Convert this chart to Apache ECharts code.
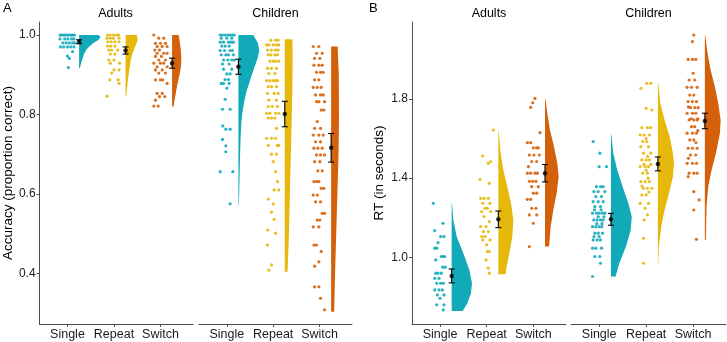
<!DOCTYPE html>
<html>
<head>
<meta charset="utf-8">
<script src="https://cdn.jsdelivr.net/npm/echarts@6/dist/echarts.min.js"></script>
<style>
  html, body { margin: 0; padding: 0; background: #fff; }
  #chart { width: 727px; height: 342px; }
</style>
</head>
<body>
<div id="chart"></div>
<script>
// categories / ticks
var groups = ["Single", "Repeat", "Switch"];
var accTicks = [0.4, 0.6, 0.8, 1.0];
var rtTicks = [1.0, 1.4, 1.8];
var colors = ["#12aab9", "#e5b80b", "#d5600a"];

// ---- A: accuracy, points as [jitter, value] ----
var accAdultSingle = [[-0.16,1],[-0.12,1],[-0.08,1],[-0.04,1],[0,1],[0.04,1],[0.08,1],[0.12,1],[0.15,1],
  [-0.16,0.99],[-0.06,0.99],[0.01,0.99],[0.09,0.99],[0.14,0.99],
  [-0.1,0.98],[-0.03,0.98],[0.04,0.98],[0.11,0.98],[0.16,0.98],
  [-0.15,0.97],[-0.08,0.97],[0,0.97],[0.07,0.97],[0.14,0.97],
  [0.11,0.958],[0,0.947],[0.04,0.941],[0.02,0.918]];
var accAdultRepeat = [[-0.14,1],[-0.08,1],[-0.01,1],[0.06,1],[0.1,1],
  [-0.15,0.992],[-0.08,0.992],[-0.01,0.992],[0.11,0.992],
  [-0.13,0.983],[-0.06,0.983],[0.02,0.983],[0.11,0.983],
  [-0.14,0.972],[-0.07,0.972],[0.02,0.972],
  [-0.11,0.962],[-0.05,0.962],[0.08,0.962],
  [-0.08,0.952],[0.02,0.952],[-0.11,0.937],[0,0.937],
  [-0.08,0.929],[0.12,0.929],[0,0.912],[0.11,0.912],[-0.05,0.904],
  [-0.09,0.887],[0.09,0.887],[0.11,0.878],[-0.15,0.846]];
var accAdultSwitch = [[-0.143,1],[-0.036,0.992],[0.071,0.992],
  [-0.107,0.979],[0,0.979],[0.107,0.979],[-0.071,0.971],[0.036,0.971],[0.143,0.971],
  [-0.121,0.962],[-0.021,0.962],[-0.071,0.954],[0.071,0.954],[0.143,0.954],
  [-0.107,0.946],[0.021,0.946],[-0.036,0.937],[0.107,0.937],
  [-0.143,0.929],[0,0.929],[0.071,0.929],[-0.071,0.92],[0.143,0.92],
  [-0.107,0.912],[0.036,0.912],[-0.036,0.904],[0.107,0.904],
  [-0.107,0.887],[0,0.887],[0.05,0.887],[0.143,0.878],
  [-0.071,0.853],[0.036,0.853],[-0.021,0.845],[0.093,0.845],[-0.107,0.836],
  [-0.143,0.821],[-0.05,0.821]];
var accChildSingle = [[-0.143,1],[-0.093,1],[-0.036,1],[0.021,1],[0.071,1],[0.121,1],[0.16,1],
  [-0.121,0.992],[0,0.992],[0.107,0.992],
  [-0.143,0.982],[-0.071,0.982],[0.036,0.982],[0.093,0.982],[0.143,0.982],
  [-0.107,0.972],[-0.036,0.972],[0.05,0.972],
  [-0.143,0.961],[-0.05,0.961],[0.071,0.961],[0.121,0.961],
  [-0.121,0.95],[-0.021,0.95],[0.036,0.95],[0.143,0.95],
  [-0.071,0.937],[0.021,0.937],[0.107,0.937],[0.164,0.937],
  [-0.093,0.927],[0.05,0.927],[-0.071,0.914],[0.107,0.914],
  [0,0.902],[0.071,0.902],[-0.036,0.888],[0.036,0.888],
  [-0.121,0.878],[-0.071,0.878],[0.05,0.878],[0,0.866],[-0.036,0.838],
  [-0.093,0.813],[0.071,0.813],[-0.086,0.771],[-0.021,0.763],[0.071,0.763],
  [-0.093,0.737],[-0.021,0.721],[-0.021,0.706],[-0.143,0.656],[0.129,0.656],[0.071,0.575]];
var accChildRepeat = [[-0.05,0.987],[0.05,0.987],[0.107,0.987],
  [-0.143,0.975],[-0.093,0.975],[0,0.975],[0.071,0.975],[0.121,0.975],
  [-0.121,0.962],[-0.036,0.962],[0.05,0.962],[0.107,0.962],
  [-0.107,0.95],[-0.05,0.95],[0.036,0.95],[0.093,0.95],
  [-0.071,0.934],[0,0.934],[0.05,0.934],[0.121,0.934],
  [-0.121,0.916],[-0.036,0.916],[0.071,0.916],[-0.093,0.903],[0.036,0.903],
  [-0.143,0.885],[-0.071,0.885],[0,0.885],[0.05,0.885],[0.093,0.885],
  [-0.107,0.87],[-0.036,0.87],[0.071,0.87],[-0.121,0.853],[0.021,0.853],[0.107,0.853],
  [-0.093,0.836],[0.071,0.836],[-0.107,0.82],[-0.021,0.82],[0.093,0.82],
  [-0.143,0.803],[-0.071,0.803],[0.05,0.803],[0.121,0.803],
  [-0.107,0.791],[-0.036,0.791],[0.036,0.791],[0.071,0.765],
  [-0.143,0.74],[-0.036,0.74],[0.05,0.74],[-0.107,0.722],[0.093,0.722],[0.121,0.722],
  [-0.036,0.7],[0.071,0.7],[0,0.681],[0.05,0.656],[0.093,0.631],[0.021,0.61],[0.121,0.61],
  [-0.107,0.587],[0,0.575],[-0.036,0.554],[0.021,0.536],[-0.121,0.509],[0.05,0.501],
  [-0.121,0.471],[-0.036,0.421],[-0.093,0.408]];
var accChildSwitch = [[-0.136,0.971],[-0.014,0.971],[-0.064,0.954],[0.057,0.954],
  [-0.107,0.941],[0.007,0.941],[-0.121,0.924],[-0.014,0.924],[0.057,0.924],
  [-0.064,0.906],[0.021,0.906],[0.079,0.906],[-0.107,0.887],[-0.014,0.887],
  [-0.136,0.868],[-0.05,0.868],[0.036,0.868],[-0.086,0.849],[0.021,0.849],[0.079,0.849],
  [-0.064,0.832],[-0.014,0.832],[0.107,0.832],[0.036,0.811],[0.093,0.811],[-0.05,0.782],
  [-0.107,0.765],[0.021,0.765],[-0.136,0.748],[-0.014,0.748],[0.079,0.748],
  [-0.086,0.731],[0.021,0.731],[-0.121,0.715],[-0.036,0.715],[0.057,0.715],
  [-0.064,0.698],[0.021,0.698],[0.107,0.698],[-0.107,0.681],[0.007,0.681],
  [-0.036,0.658],[0.057,0.658],[-0.121,0.631],[-0.064,0.631],[-0.014,0.631],
  [0.036,0.614],[0.093,0.614],[-0.136,0.597],[-0.05,0.597],[-0.086,0.58],[0.021,0.58],
  [0.057,0.551],[0.107,0.551],[-0.05,0.534],[0.007,0.534],[-0.136,0.517],[-0.014,0.517],
  [-0.121,0.471],[-0.064,0.471],[0.036,0.455],[-0.014,0.429],[-0.107,0.418],
  [-0.107,0.366],[-0.014,0.366],[0.021,0.337],[0.107,0.308]];

// ---- B: RT in seconds ----
var rtAdultSingle = [[-0.142,1.273],[0.064,1.172],[-0.113,1.135],[0.014,1.105],[0.085,1.105],
  [-0.043,1.074],[-0.113,1.046],[-0.071,1.046],[0.028,1.004],[0.071,1.004],[0.099,1.004],
  [-0.092,0.987],[0.057,0.95],[0.113,0.95],[-0.092,0.92],[-0.043,0.92],[0.028,0.92],
  [-0.113,0.894],[-0.021,0.894],[-0.071,0.869],[0.014,0.869],[0.071,0.869],
  [-0.113,0.835],[-0.021,0.835],[0.05,0.835],[-0.057,0.81],[0.085,0.81],[0,0.793],
  [-0.071,0.76],[0.085,0.76],[0.071,0.734]];
var rtAdultRepeat = [[0.142,1.643],[-0.085,1.512],[0.085,1.484],[0.035,1.475],[-0.142,1.394],
  [0.057,1.374],[-0.128,1.298],[-0.057,1.298],[0.035,1.298],[-0.085,1.273],[0.071,1.273],
  [-0.035,1.248],[0.014,1.248],[-0.106,1.231],[0.085,1.231],[-0.057,1.206],[0.057,1.18],
  [-0.128,1.155],[-0.014,1.155],[-0.071,1.13],[0.035,1.13],[-0.106,1.105],[-0.035,1.105],
  [-0.085,1.088],[0.071,1.088],[0,1.063],[0.014,1.029],[0.057,1.029],[-0.014,0.987],
  [0.035,0.945],[0.057,0.92]];
var rtAdultSwitch = [[0.035,1.803],[-0.014,1.781],[-0.057,1.758],[0.142,1.63],
  [-0.128,1.579],[-0.057,1.579],[0,1.553],[0.071,1.553],[0.106,1.553],
  [-0.085,1.517],[0.014,1.517],[0.128,1.517],[-0.035,1.484],[0.071,1.484],[-0.106,1.458],
  [-0.128,1.425],[-0.057,1.425],[0.035,1.425],[0.085,1.425],
  [-0.085,1.384],[-0.014,1.384],[0.057,1.384],[-0.035,1.357],[0.106,1.357],
  [0,1.324],[0.071,1.324],[-0.128,1.293],[-0.057,1.293],[-0.035,1.248],[0.057,1.248],
  [-0.085,1.214],[0.071,1.214],[0,1.172],[-0.085,1.054]];
var rtChildSingle = [[-0.128,1.585],[0.014,1.526],[0,1.458],[0.156,1.458],
  [-0.057,1.357],[0.028,1.357],[0.085,1.357],[-0.113,1.332],[-0.021,1.332],[0.121,1.332],
  [-0.071,1.307],[0.05,1.307],[-0.128,1.281],[-0.021,1.281],[0.085,1.281],
  [-0.092,1.256],[0.028,1.256],[-0.1,1.24],[0.04,1.24],
  [-0.142,1.223],[-0.057,1.223],[0,1.223],[0.071,1.223],[0.121,1.223],
  [-0.02,1.205],[0.1,1.205],
  [-0.113,1.189],[-0.043,1.189],[0.028,1.189],[0.085,1.189],[-0.05,1.17],[0.06,1.17],
  [-0.142,1.155],[-0.071,1.155],[0,1.155],[0.057,1.155],
  [-0.092,1.122],[-0.021,1.122],[0.071,1.122],[0,1.105],[-0.11,1.105],
  [-0.128,1.088],[-0.043,1.088],[0.028,1.088],[-0.142,1.046],[-0.071,1.046],[0.05,1.046],
  [-0.092,1.004],[0.014,1.004],[0.028,0.97],[-0.142,0.903]];
var rtChildRepeat = [[0.014,1.879],[0.099,1.879],[-0.113,1.854],[0,1.753],[0.121,1.744],
  [-0.092,1.655],[0.028,1.655],[0.099,1.655],[-0.128,1.618],[-0.043,1.618],[0.071,1.618],
  [0,1.6],[-0.071,1.585],[0.014,1.585],[-0.113,1.559],[0.05,1.559],
  [-0.057,1.526],[0.099,1.526],[0.03,1.51],[-0.092,1.492],[0,1.492],[0.071,1.492],
  [-0.05,1.47],[0.1,1.47],[-0.128,1.458],[-0.021,1.458],[0.05,1.458],[0,1.44],
  [-0.071,1.425],[0.028,1.425],[0.04,1.4],[-0.113,1.382],[-0.021,1.382],[0.071,1.382],
  [-0.09,1.36],[-0.057,1.349],[0.028,1.349],[0.121,1.349],[0.06,1.33],
  [-0.092,1.315],[0,1.315],[-0.128,1.273],[0.05,1.273],[-0.021,1.248],[0.028,1.214],
  [-0.043,1.189],[-0.057,1.096],[-0.057,0.97]];
var rtChildSwitch = [[0.014,2.123],[-0.014,2.09],[-0.106,2.0],[-0.014,2.0],[0.057,2.0],
  [0,1.93],[-0.085,1.896],[0.035,1.896],[-0.128,1.859],[-0.035,1.859],[0.085,1.859],
  [-0.071,1.82],[0.014,1.82],[-0.106,1.787],[-0.014,1.787],[0.071,1.787],
  [-0.1,1.76],[-0.057,1.756],[0.035,1.756],[0.106,1.756],
  [-0.128,1.728],[-0.014,1.728],[0.057,1.728],[-0.04,1.7],[0.1,1.7],
  [-0.085,1.694],[0.014,1.694],[0.085,1.694],[-0.035,1.66],[0.035,1.66],[0.1,1.64],
  [-0.128,1.627],[-0.014,1.627],[0.071,1.627],[-0.071,1.593],[0.014,1.593],[0.06,1.58],
  [-0.106,1.551],[-0.014,1.551],[0.085,1.551],[-0.057,1.517],[0.057,1.517],[-0.1,1.5],
  [-0.128,1.475],[-0.014,1.475],[0.071,1.475],[-0.085,1.425],[0.014,1.425],[0.085,1.425],
  [-0.106,1.408],[0.014,1.332],[0.128,1.29],[0.014,1.239],[0.071,1.091]];

// means and standard errors
var accAdultMean = [0.983, 0.961, 0.929];
var accAdultSE = [0.005, 0.009, 0.0126];
var accChildMean = [0.92, 0.801, 0.716];
var accChildSE = [0.019, 0.032, 0.036];
var rtAdultMean = [0.906, 1.192, 1.425];
var rtAdultSE = [0.035, 0.042, 0.044];
var rtChildMean = [1.192, 1.472, 1.689];
var rtChildSE = [0.03, 0.035, 0.039];

// half-violin outlines: [value, width in x units], top to bottom
var accAdultSingleDens = [[1,0.42],[0.995,0.46],[0.988,0.42],[0.979,0.3],[0.97,0.21],[0.962,0.15],[0.95,0.1],[0.941,0.075],[0.93,0.045],[0.916,0.015]];
var accAdultRepeatDens = [[1,0.24],[0.99,0.26],[0.98,0.24],[0.97,0.2],[0.962,0.18],[0.95,0.14],[0.937,0.11],[0.92,0.09],[0.904,0.07],[0.887,0.05],[0.87,0.035],[0.846,0.015]];
var accAdultSwitchDens = [[1,0.14],[0.98,0.17],[0.96,0.19],[0.94,0.2],[0.92,0.19],[0.9,0.16],[0.88,0.12],[0.86,0.09],[0.84,0.06],[0.82,0.03]];
var accChildSingleDens = [[1,0.32],[0.98,0.42],[0.96,0.45],[0.94,0.41],[0.92,0.35],[0.9,0.29],[0.88,0.235],[0.86,0.18],[0.84,0.14],[0.82,0.107],[0.8,0.08],[0.78,0.064],[0.75,0.05],[0.7,0.036],[0.65,0.026],[0.6,0.017],[0.572,0.01]];
var accChildRepeatDens = [[0.989,0.165],[0.95,0.17],[0.87,0.165],[0.786,0.15],[0.7,0.13],[0.6,0.11],[0.5,0.09],[0.45,0.075],[0.404,0.06]];
var accChildSwitchDens = [[0.971,0.14],[0.9,0.165],[0.8,0.17],[0.7,0.16],[0.6,0.135],[0.5,0.11],[0.4,0.085],[0.303,0.065]];
var rtAdultSingleDens = [[1.273,0.007],[1.189,0.036],[1.105,0.107],[1.021,0.25],[0.936,0.38],[0.869,0.435],[0.819,0.413],[0.768,0.336],[0.729,0.236]];
var rtAdultRepeatDens = [[1.643,0.007],[1.526,0.05],[1.441,0.107],[1.357,0.193],[1.273,0.272],[1.189,0.321],[1.105,0.3],[1.021,0.236],[0.953,0.178],[0.915,0.156]];
var rtAdultSwitchDens = [[1.803,0.007],[1.728,0.05],[1.643,0.107],[1.559,0.193],[1.475,0.263],[1.408,0.293],[1.324,0.25],[1.239,0.178],[1.155,0.122],[1.054,0.086]];
var rtChildSingleDens = [[1.623,0.007],[1.526,0.05],[1.441,0.135],[1.357,0.25],[1.273,0.37],[1.206,0.443],[1.138,0.422],[1.054,0.321],[0.97,0.178],[0.903,0.1]];
var rtChildRepeatDens = [[1.883,0.007],[1.778,0.05],[1.694,0.143],[1.61,0.25],[1.526,0.321],[1.475,0.343],[1.408,0.321],[1.324,0.236],[1.239,0.143],[1.155,0.071],[1.054,0.021],[0.965,0.007]];
var rtChildSwitchDens = [[2.123,0.007],[2.031,0.058],[1.946,0.122],[1.862,0.214],[1.778,0.285],[1.694,0.336],[1.627,0.321],[1.526,0.236],[1.441,0.143],[1.357,0.071],[1.256,0.036],[1.088,0.021]];

var panels = [
  { left: 38, width: 155, title: "Adults", min: 0.2724, max: 1.0327, ticks: accTicks, yName: "Accuracy (proportion correct)", nameGap: 20, showY: true,
    pts: [accAdultSingle, accAdultRepeat, accAdultSwitch], dens: [accAdultSingleDens, accAdultRepeatDens, accAdultSwitchDens], mean: accAdultMean, se: accAdultSE },
  { left: 199, width: 153, title: "Children", min: 0.2724, max: 1.0327, ticks: accTicks, showY: false,
    pts: [accChildSingle, accChildRepeat, accChildSwitch], dens: [accChildSingleDens, accChildRepeatDens, accChildSwitchDens], mean: accChildMean, se: accChildSE },
  { left: 412, width: 154, title: "Adults", min: 0.663, max: 2.189, ticks: rtTicks, yName: "RT (in seconds)", nameGap: 26, showY: true,
    pts: [rtAdultSingle, rtAdultRepeat, rtAdultSwitch], dens: [rtAdultSingleDens, rtAdultRepeatDens, rtAdultSwitchDens], mean: rtAdultMean, se: rtAdultSE },
  { left: 571, width: 155, title: "Children", min: 0.663, max: 2.189, ticks: rtTicks, showY: false,
    pts: [rtChildSingle, rtChildRepeat, rtChildSwitch], dens: [rtChildSingleDens, rtChildRepeatDens, rtChildSwitchDens], mean: rtChildMean, se: rtChildSE }
];

var font = '"Liberation Sans", Arial, sans-serif';
var axisCol = "#4d4d4d";
var grids = [], xAxes = [], yAxes = [], series = [], graphics = [];

panels.forEach(function (p, g) {
  grids.push({ left: p.left, top: 22, width: p.width, height: 302 });
  xAxes.push({
    gridIndex: g, type: "value", min: 0.4, max: 3.7,
    axisLine: { show: true, lineStyle: { color: axisCol, width: 1 } },
    axisTick: { show: true, customValues: [1, 2, 3], length: 3, lineStyle: { color: axisCol } },
    axisLabel: { customValues: [1, 2, 3], formatter: function (v) { return groups[Math.round(v) - 1]; },
      color: "#1a1a1a", fontSize: 12.5, fontFamily: font, margin: 4 },
    splitLine: { show: false }
  });
  yAxes.push({
    gridIndex: g, type: "value", min: p.min, max: p.max, show: p.showY,
    name: p.yName, nameLocation: "middle", nameGap: p.nameGap, nameRotate: 90,
    nameTextStyle: { color: "#000", fontSize: 13.5, fontFamily: font },
    axisLine: { show: true, lineStyle: { color: axisCol, width: 1 } },
    axisTick: { show: true, customValues: p.ticks, length: 3, lineStyle: { color: axisCol } },
    axisLabel: { customValues: p.ticks, formatter: function (v) { return v.toFixed(1); },
      color: "#1a1a1a", fontSize: 12, fontFamily: font, margin: 4 },
    splitLine: { show: false }
  });

  // half violins
  series.push({
    type: "custom", xAxisIndex: g, yAxisIndex: g, silent: true, z: 2,
    data: [[1.25, p.mean[0]], [2.25, p.mean[1]], [3.25, p.mean[2]]],
    renderItem: function (params, api) {
      var i = params.dataIndex;
      var prof = p.dens[i];
      var base = i + 1.25;
      var pts = prof.map(function (r) { return api.coord([base + r[1], r[0]]); });
      pts.push(api.coord([base, prof[prof.length - 1][0]]));
      pts.push(api.coord([base, prof[0][0]]));
      return { type: "polygon", shape: { points: pts }, style: { fill: colors[i], stroke: null } };
    }
  });

  // jittered points
  p.pts.forEach(function (arr, i) {
    series.push({
      type: "scatter", xAxisIndex: g, yAxisIndex: g, silent: true, z: 3,
      symbolSize: 3.2,
      itemStyle: { color: colors[i], opacity: 0.9 },
      data: arr.map(function (d) { return [i + 1 + d[0], d[1]]; })
    });
  });

  // error bars
  series.push({
    type: "custom", xAxisIndex: g, yAxisIndex: g, silent: true, z: 4,
    data: p.mean.map(function (m, i) { return [i + 1.25, m, p.se[i]]; }),
    renderItem: function (params, api) {
      var x = api.value(0), m = api.value(1), s = api.value(2);
      var lo = api.coord([x, m - s]), hi = api.coord([x, m + s]);
      var st = { stroke: "#000", lineWidth: 1.1 };
      return { type: "group", children: [
        { type: "line", shape: { x1: lo[0], y1: lo[1], x2: hi[0], y2: hi[1] }, style: st },
        { type: "line", shape: { x1: lo[0] - 3, y1: lo[1], x2: lo[0] + 3, y2: lo[1] }, style: st },
        { type: "line", shape: { x1: hi[0] - 3, y1: hi[1], x2: hi[0] + 3, y2: hi[1] }, style: st }
      ] };
    }
  });
  series.push({
    type: "scatter", xAxisIndex: g, yAxisIndex: g, silent: true, z: 5,
    symbolSize: 4.5, itemStyle: { color: "#000" },
    data: p.mean.map(function (m, i) { return [i + 1.25, m]; })
  });

  graphics.push({ type: "text", x: p.left + p.width / 2, y: 14,
    style: { text: p.title, align: "center", verticalAlign: "middle", font: "12.5px " + font, fill: "#000" } });
});

graphics.push({ type: "text", x: 3, y: 8, style: { text: "A", verticalAlign: "middle", font: "13px " + font, fill: "#000" } });
graphics.push({ type: "text", x: 369, y: 8, style: { text: "B", verticalAlign: "middle", font: "13px " + font, fill: "#000" } });

var chart = echarts.init(document.getElementById("chart"));
chart.setOption({
  animation: false,
  backgroundColor: "#fff",
  grid: grids,
  xAxis: xAxes,
  yAxis: yAxes,
  series: series,
  graphic: graphics
});
</script>
</body>
</html>
